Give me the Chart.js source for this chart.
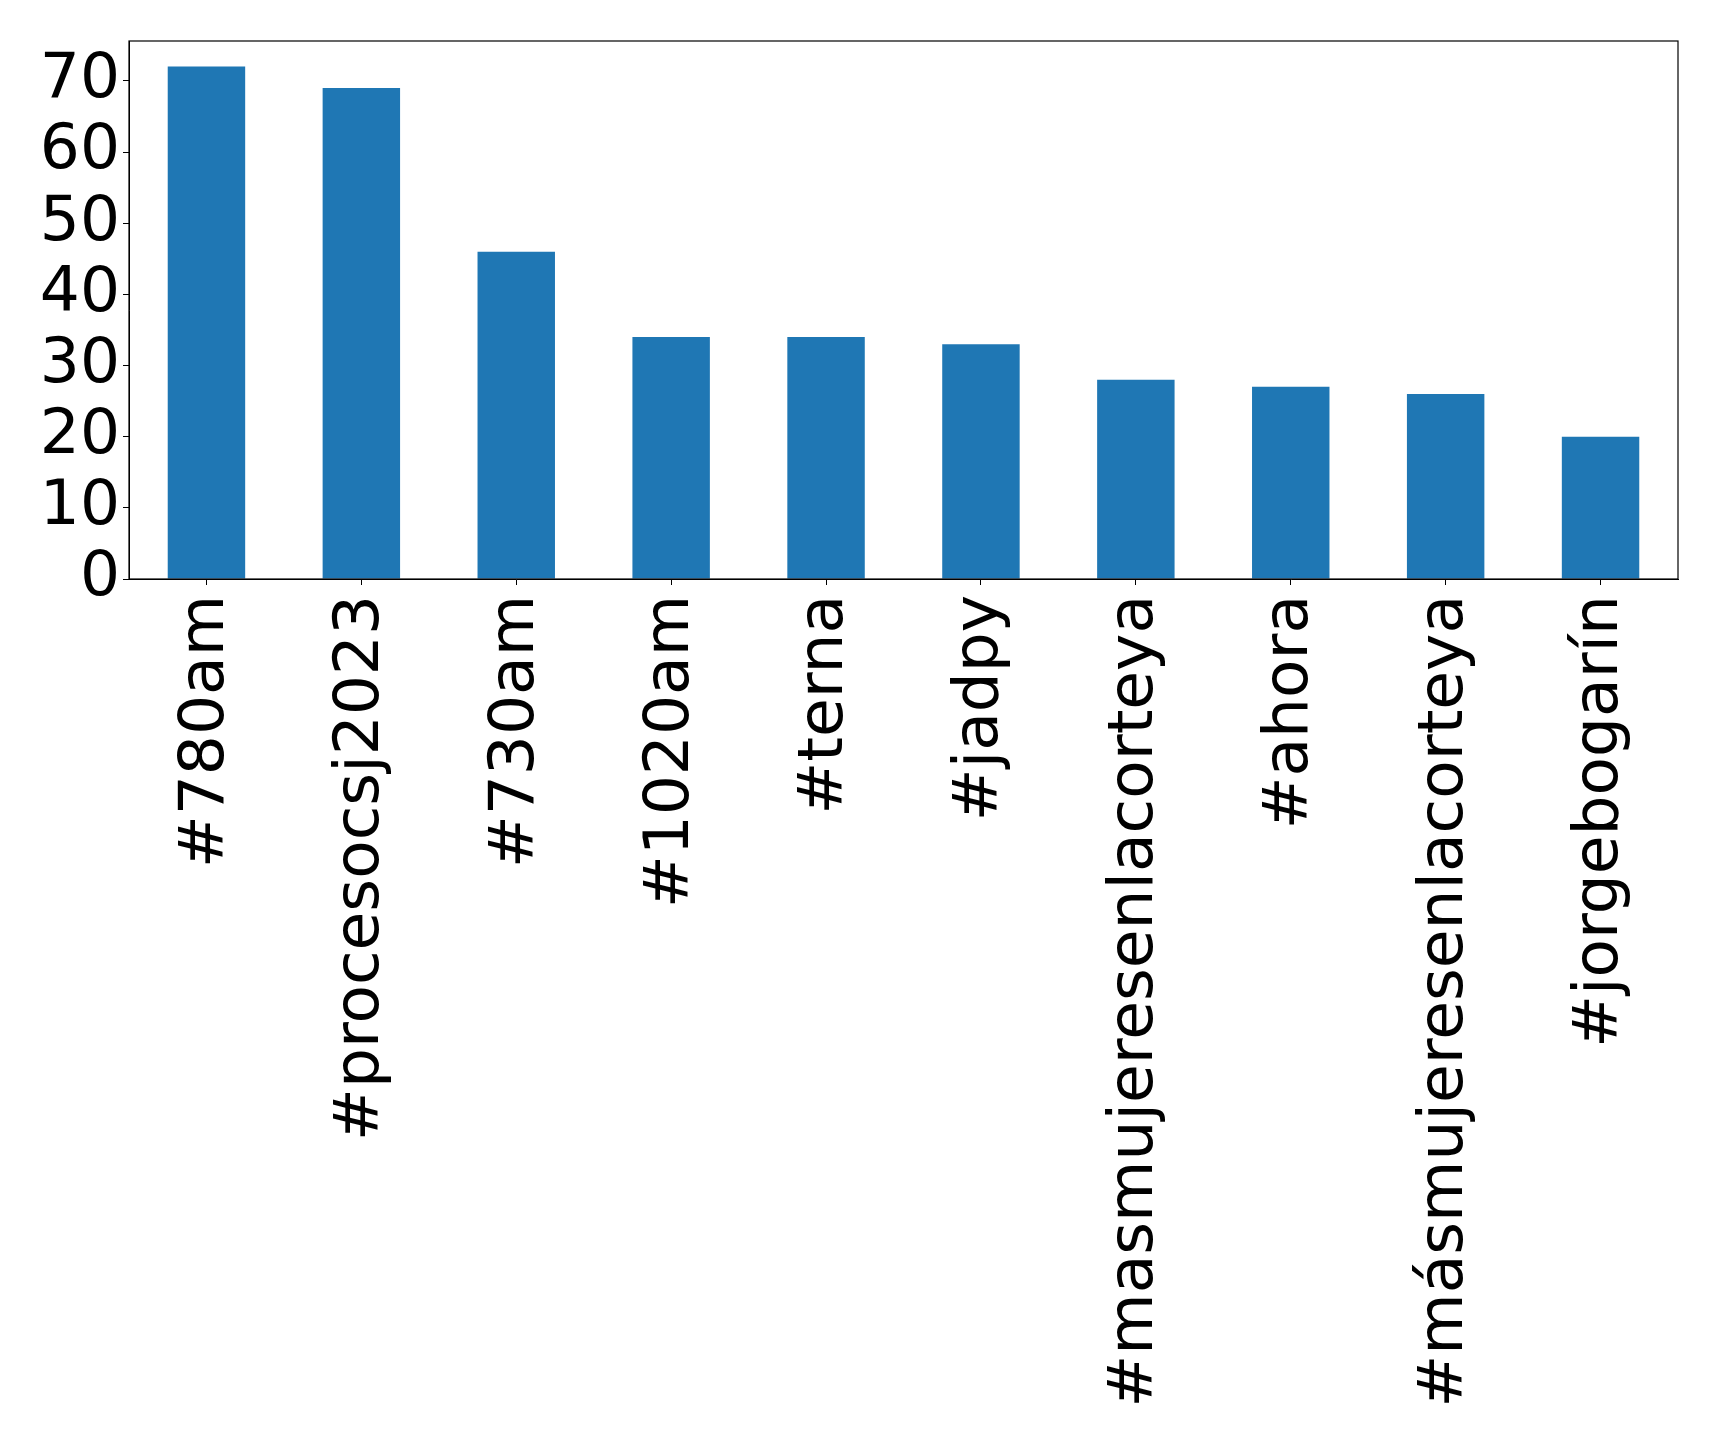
<!DOCTYPE html>
<html>
<head>
<meta charset="utf-8">
<script src="https://cdn.jsdelivr.net/npm/chart.js@4"></script>
<style>
  body { margin: 0; background: #fff; }
</style>
</head>
<body>
<canvas id="chart" width="1719" height="1434"></canvas>
<script>
// hashtag counts
const hashtags = ["#780am", "#procesocsj2023", "#730am", "#1020am", "#terna", "#jadpy",
  "#masmujeresenlacorteya", "#ahora", "#másmujeresenlacorteya", "#jorgebogarín"];
const counts = [72, 69, 46, 34, 34, 33, 28, 27, 26, 20];
const yTicks = [0, 10, 20, 30, 40, 50, 60, 70];

// box around the plot area, like matplotlib spines
const frame = {
  id: "frame",
  afterDraw(chart) {
    const a = chart.chartArea;
    const c = chart.ctx;
    c.save();
    c.strokeStyle = "#000";
    c.lineWidth = 1.2;
    c.strokeRect(a.left, a.top, a.right - a.left, a.bottom - a.top);
    c.restore();
  }
};

new Chart(document.getElementById("chart").getContext("2d"), {
  type: "bar",
  data: {
    labels: hashtags,
    datasets: [{
      data: counts,
      backgroundColor: "#1f77b4",
      barPercentage: 0.5,
      categoryPercentage: 1.0,
    }],
  },
  options: {
    responsive: false,
    animation: false,
    layout: { padding: { top: 41, right: 41, left: 0, bottom: 0 } },
    plugins: { legend: { display: false }, tooltip: { enabled: false } },
    scales: {
      x: {
        grid: { drawOnChartArea: false, offset: false, color: "#000", tickLength: 6 },
        border: { color: "#000" },
        ticks: {
          color: "#000",
          font: { family: "DejaVu Sans", size: 63 },
          minRotation: 90,
          maxRotation: 90,
          autoSkip: false,
          padding: 10,
        },
        afterFit(scale) { scale.height = 855; },
      },
      y: {
        min: 0,
        max: 75.6,
        grid: { drawOnChartArea: false, color: "#000", tickLength: 6 },
        border: { color: "#000" },
        ticks: {
          color: "#000",
          font: { family: "DejaVu Sans", size: 63 },
          stepSize: 10,
          autoSkip: false,
          padding: 3,
        },
        afterBuildTicks(scale) {
          scale.ticks = yTicks.map(v => ({ value: v }));
        },
        afterFit(scale) { scale.width = 129; },
      },
    },
  },
  plugins: [frame],
});
</script>
</body>
</html>
